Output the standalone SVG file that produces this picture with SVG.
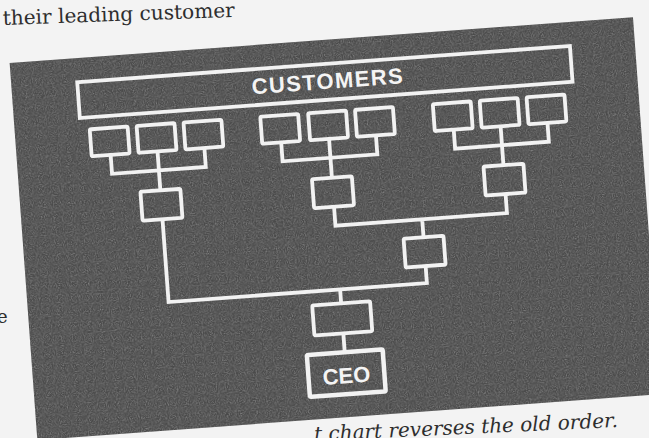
<svg xmlns="http://www.w3.org/2000/svg" width="649" height="438" viewBox="0 0 649 438">
  <style>
    .box { fill: none; stroke: #f2f2f2; stroke-width: 3.8; }
    .ceo { fill: none; stroke: #f2f2f2; stroke-width: 4.5; }
    .wire { fill: none; stroke: #f2f2f2; stroke-width: 3.8; stroke-linejoin: miter; }
    .lbl { font-family: "Liberation Sans", Arial, sans-serif; font-weight: bold; fill: #f4f4f4; text-anchor: middle; }
    .page { font-family: "DejaVu Serif", "Liberation Serif", serif; fill: #2e2e2e; }
  </style>
  <defs>
    <filter id="grain" x="0" y="0" width="100%" height="100%">
      <feTurbulence type="fractalNoise" baseFrequency="0.9" numOctaves="2" seed="3" result="n"/>
      <feColorMatrix in="n" type="matrix" values="0 0 0 0 1  0 0 0 0 1  0 0 0 0 1  0.6 0 0 0 -0.22"/>
      <feComposite in2="SourceGraphic" operator="in"/>
    </filter>
  </defs>
  <rect width="649" height="438" fill="#f3f3f3"/>
  <text class="page" x="3" y="25" font-size="20" textLength="232" lengthAdjust="spacingAndGlyphs" transform="rotate(-2 3 25)">their leading customer</text>
  <text class="page" x="-3" y="323" font-size="18" fill="#666">e</text>
  <text class="page" x="618" y="427" font-size="20" font-style="italic" text-anchor="end" transform="rotate(-2.6 618 427)">t chart reverses the old order.</text>

  <g transform="rotate(-4.2 330 220)">
    <g id="panel">
      <rect x="22" y="40" width="625" height="378" fill="#4a4a4a"/>
      <rect x="22" y="40" width="625" height="378" fill="#4a4a4a" filter="url(#grain)"/>
    </g>

    <g id="connectors">
      <path class="wire" d="M116 139 V158 H210 V139 M163 139 V178"/>
      <path class="wire" d="M287 139 V158 H382 V139 M335 139 V178"/>
      <path class="wire" d="M460 139 V158 H554 V139 M507 139 V178"/>
      <path class="wire" d="M335 207 V226 H507 V207 M422 226 V244"/>
      <path class="wire" d="M163 207 V290 H422 V273 M335 290 V304"/>
      <path class="wire" d="M335 334 V353"/>
    </g>

    <g id="customers">
      <rect class="box" x="88" y="64" width="494" height="36"/>
      <text class="lbl" x="338" y="89" font-size="22" letter-spacing="1.4">CUSTOMERS</text>
    </g>

    <g id="front-1a"><rect class="box" x="97" y="112" width="38" height="27" rx="1.5"/></g>
    <g id="front-1b"><rect class="box" x="144" y="112" width="38" height="27" rx="1.5"/></g>
    <g id="front-1c"><rect class="box" x="191" y="112" width="38" height="27" rx="1.5"/></g>
    <g id="front-2a"><rect class="box" x="268" y="112" width="38" height="27" rx="1.5"/></g>
    <g id="front-2b"><rect class="box" x="316" y="112" width="38" height="27" rx="1.5"/></g>
    <g id="front-2c"><rect class="box" x="363" y="112" width="38" height="27" rx="1.5"/></g>
    <g id="front-3a"><rect class="box" x="441" y="112" width="38" height="27" rx="1.5"/></g>
    <g id="front-3b"><rect class="box" x="488" y="112" width="38" height="27" rx="1.5"/></g>
    <g id="front-3c"><rect class="box" x="535" y="112" width="38" height="27" rx="1.5"/></g>

    <g id="mid-1"><rect class="box" x="143" y="178" width="40" height="29" rx="1.5"/></g>
    <g id="mid-2"><rect class="box" x="315" y="178" width="40" height="29" rx="1.5"/></g>
    <g id="mid-3"><rect class="box" x="487" y="178" width="40" height="29" rx="1.5"/></g>

    <g id="upper-1"><rect class="box" x="402" y="244" width="40" height="29" rx="1.5"/></g>
    <g id="upper-2"><rect class="box" x="306" y="304" width="58" height="30" rx="1.5"/></g>

    <g id="ceo">
      <rect class="ceo" x="297" y="353" width="76" height="42" rx="1.5"/>
      <text class="lbl" x="335" y="384" font-size="22">CEO</text>
    </g>
  </g>
</svg>
